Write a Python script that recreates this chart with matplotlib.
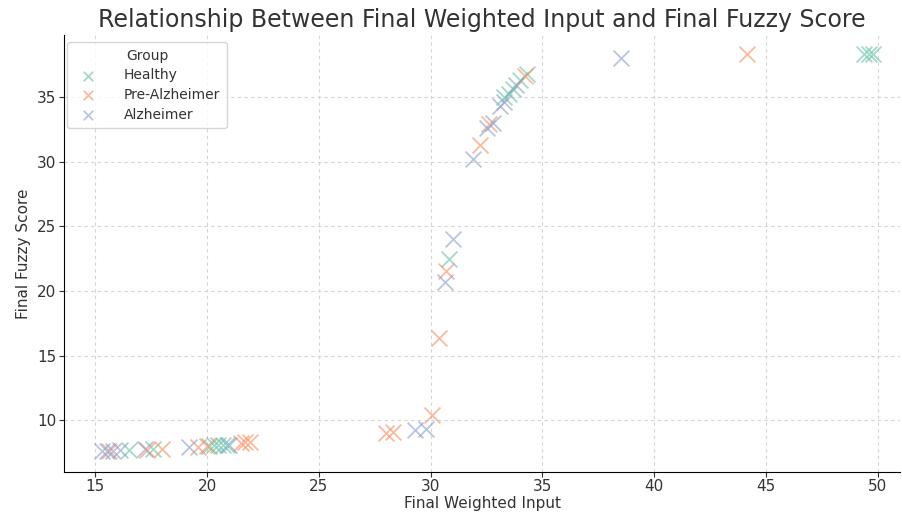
import matplotlib.pyplot as plt

# Values
groups = ['Healthy', 'Pre-Alzheimer', 'Alzheimer']
colors = ['#66c2a5', '#fc8d62', '#8da0cb']

healthy_x = [16.5, 17.6, 20.1, 20.3, 20.5, 20.7, 20.9, 30.8, 33.3, 33.5, 33.7, 34.0, 34.3, 49.4, 49.6, 49.8]
healthy_y = [7.7, 7.75, 8.0, 8.05, 8.1, 8.05, 8.1, 22.5, 35.0, 35.2, 35.6, 36.3, 36.8, 38.3, 38.3, 38.3]

pre_x = [15.6, 17.3, 18.0, 19.6, 20.0, 21.5, 21.7, 21.9, 28.0, 28.3, 30.05, 30.35, 30.7, 32.2, 32.6, 34.2, 44.15]
pre_y = [7.6, 7.7, 7.75, 7.9, 8.0, 8.2, 8.3, 8.3, 9.0, 9.05, 10.4, 16.35, 21.5, 31.3, 32.9, 36.6, 38.3]

alz_x = [15.3, 15.5, 15.8, 16.1, 17.2, 19.2, 21.0, 29.3, 29.8, 30.65, 31.0, 31.9, 32.5, 32.8, 33.1, 33.3, 33.8, 38.5]
alz_y = [7.6, 7.65, 7.6, 7.7, 7.75, 7.9, 8.1, 9.2, 9.3, 20.7, 24.0, 30.2, 32.6, 33.0, 34.3, 34.6, 35.9, 38.0]

xs = [healthy_x, pre_x, alz_x]
ys = [healthy_y, pre_y, alz_y]

fig = plt.figure(figsize=(9.02, 5.14), dpi=100)
ax = fig.add_axes([0.071, 0.082, 0.927, 0.85])

for name, c, x, y in zip(groups, colors, xs, ys):
    ax.scatter(x, y, marker='x', s=130, color=c, alpha=0.6, linewidths=1.3, label=name)

ax.set_xlim(13.6, 51.0)
ax.set_ylim(6.0, 39.8)
ax.set_xticks([15, 20, 25, 30, 35, 40, 45, 50])
ax.set_yticks([10, 15, 20, 25, 30, 35])
ax.grid(True, linestyle=(0, (3, 3)), color='#d5d5d5', linewidth=0.8)
ax.set_axisbelow(True)
ax.spines['top'].set_visible(False)
ax.spines['right'].set_visible(False)
ax.tick_params(labelsize=11, colors='#333333', pad=2)

ax.set_xlabel('Final Weighted Input', fontsize=11, color='#333333', labelpad=1)
ax.set_ylabel('Final Fuzzy Score', fontsize=11, color='#333333', labelpad=4)
ax.set_title('Relationship Between Final Weighted Input and Final Fuzzy Score',
             fontsize=17, color='#333333', pad=6)

leg = ax.legend(title='Group', loc='upper left', fontsize=10, title_fontsize=10,
                handletextpad=1.6, borderpad=0.5, labelspacing=0.4, markerscale=0.6,
                bbox_to_anchor=(-0.005, 1.0))
for t in leg.get_texts():
    t.set_color('#333333')
leg.get_title().set_color('#333333')

fig.savefig('out.png', dpi=100)
